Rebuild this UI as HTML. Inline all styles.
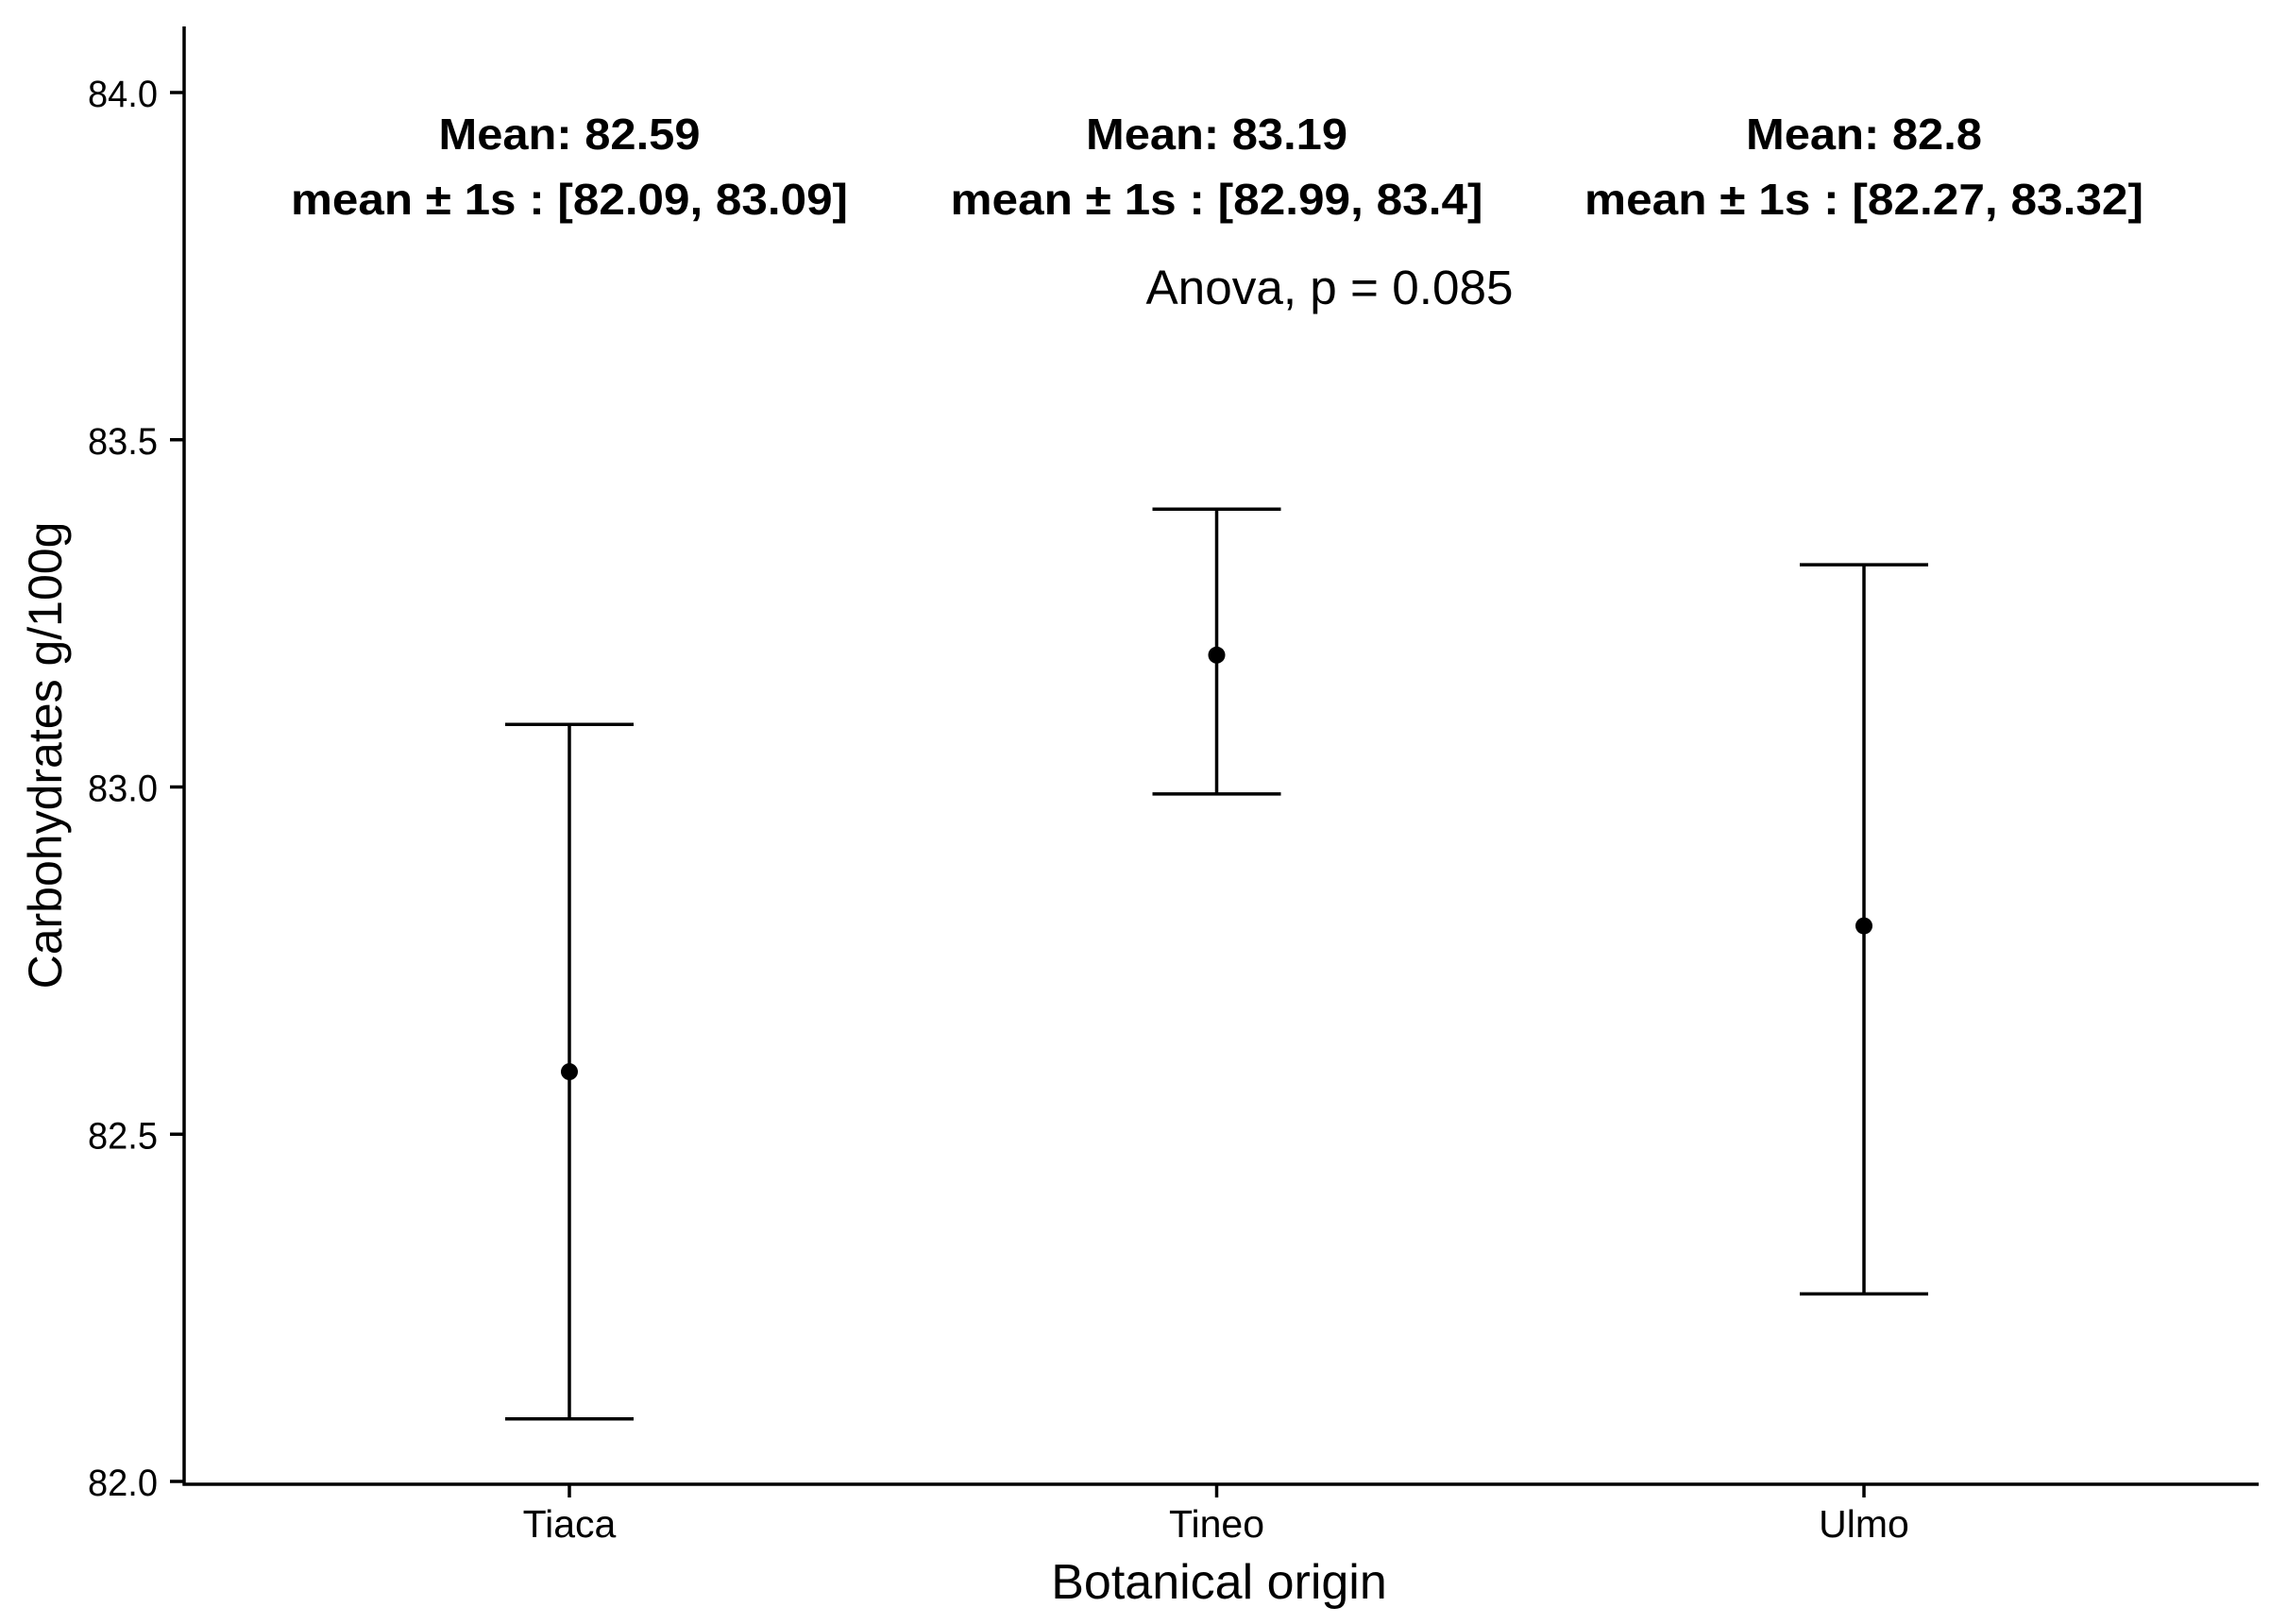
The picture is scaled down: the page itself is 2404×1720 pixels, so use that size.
<!DOCTYPE html>
<html><head><meta charset="utf-8"><style>html,body{margin:0;padding:0;background:#fff}svg{display:block}</style></head>
<body>
<svg id="chart" width="2404" height="1720" viewBox="0 0 2404 1720" xmlns="http://www.w3.org/2000/svg" font-family="Liberation Sans, Arial, sans-serif">
<g id="axes"></g>
<g id="marks"></g>
<g id="labels"></g>
</svg>
<script>
const categories = ["Tiaca", "Tineo", "Ulmo"];
const means = [82.59, 83.19, 82.8];
const lowers = [82.09, 82.99, 82.27];
const uppers = [83.09, 83.4, 83.32];
const meanLabels = ["Mean: 82.59", "Mean: 83.19", "Mean: 82.8"];
const rangeLabels = ["mean \u00b1 1s : [82.09, 83.09]", "mean \u00b1 1s : [82.99, 83.4]", "mean \u00b1 1s : [82.27, 83.32]"];
const yTicks = [82.0, 82.5, 83.0, 83.5, 84.0];
const yTickLabels = ["82.0", "82.5", "83.0", "83.5", "84.0"];

const SVGNS = "http://www.w3.org/2000/svg";
const plotLeft = 195, plotRight = 2392, plotTop = 28, axisY = 1572;
const meanWidths = [277, 277, 250];
const rangeWidths = [590, 564, 592];
function yScale(v) { return 1569 + (v - 82) * (98 - 1569) / 2; }
function xScale(i) { return 603 + i * 685.5; }
function mk(tag, attrs, parent, txt) {
  const e = document.createElementNS(SVGNS, tag);
  for (const k in attrs) e.setAttribute(k, attrs[k]);
  if (txt !== undefined) e.textContent = txt;
  parent.appendChild(e);
  return e;
}
const axesG = document.getElementById("axes");
const marksG = document.getElementById("marks");
const labelsG = document.getElementById("labels");
const SW = 3.5;

let el = mk("line", {x1: plotLeft, y1: plotTop, x2: plotLeft, y2: axisY + 1.5, stroke: "#000", "stroke-width": SW}, axesG);


el = mk("line", {x1: plotLeft - 1.5, y1: axisY, x2: plotRight, y2: axisY, stroke: "#000", "stroke-width": SW}, axesG);



yTicks.forEach((v, i) => {
  const y = yScale(v);
  let t = mk("line", {x1: plotLeft - 15, y1: y, x2: plotLeft, y2: y, stroke: "#000", "stroke-width": SW}, axesG);
  
  
  let l = mk("text", {x: 167, y: y + 15, "text-anchor": "end", "font-size": 40, textLength: 74, lengthAdjust: "spacingAndGlyphs", fill: "#000"}, axesG, yTickLabels[i]);
  
  
});

categories.forEach((c, i) => {
  const x = xScale(i);
  let t = mk("line", {x1: x, y1: axisY, x2: x, y2: axisY + 14, stroke: "#000", "stroke-width": SW}, axesG);
  
  
  let l = mk("text", {x: x, y: 1628, "text-anchor": "middle", "font-size": 41, fill: "#000"}, axesG, c);
  
  

  const yl = yScale(lowers[i]), yu = yScale(uppers[i]), ym = yScale(means[i]);
  let v = mk("line", {x1: x, y1: yu, x2: x, y2: yl, stroke: "#000", "stroke-width": SW}, marksG);
  
  
  let cu = mk("line", {x1: x - 68, y1: yu, x2: x + 68, y2: yu, stroke: "#000", "stroke-width": SW}, marksG);
  
  
  let cl = mk("line", {x1: x - 68, y1: yl, x2: x + 68, y2: yl, stroke: "#000", "stroke-width": SW}, marksG);
  
  
  let p = mk("circle", {cx: x, cy: ym, r: 9, fill: "#000"}, marksG);
  
  

  let m = mk("text", {x: x, y: 158, "text-anchor": "middle", "font-size": 46, "font-weight": "bold", textLength: meanWidths[i], lengthAdjust: "spacingAndGlyphs", fill: "#000"}, labelsG, meanLabels[i]);
  
  
  let r = mk("text", {x: x, y: 227, "text-anchor": "middle", "font-size": 46, "font-weight": "bold", textLength: rangeWidths[i], lengthAdjust: "spacingAndGlyphs", fill: "#000"}, labelsG, rangeLabels[i]);
  
  
});

el = mk("text", {x: 1408, y: 322, "text-anchor": "middle", "font-size": 51, textLength: 389, lengthAdjust: "spacingAndGlyphs", fill: "#000"}, labelsG, "Anova, p = 0.085");


el = mk("text", {x: 1291, y: 1693, "text-anchor": "middle", "font-size": 52, fill: "#000"}, labelsG, "Botanical origin");


el = mk("text", {x: 0, y: 0, "text-anchor": "middle", "font-size": 50, fill: "#000", transform: "translate(65,800) rotate(-90)"}, labelsG, "Carbohydrates g/100g");


</script>
</body></html>
